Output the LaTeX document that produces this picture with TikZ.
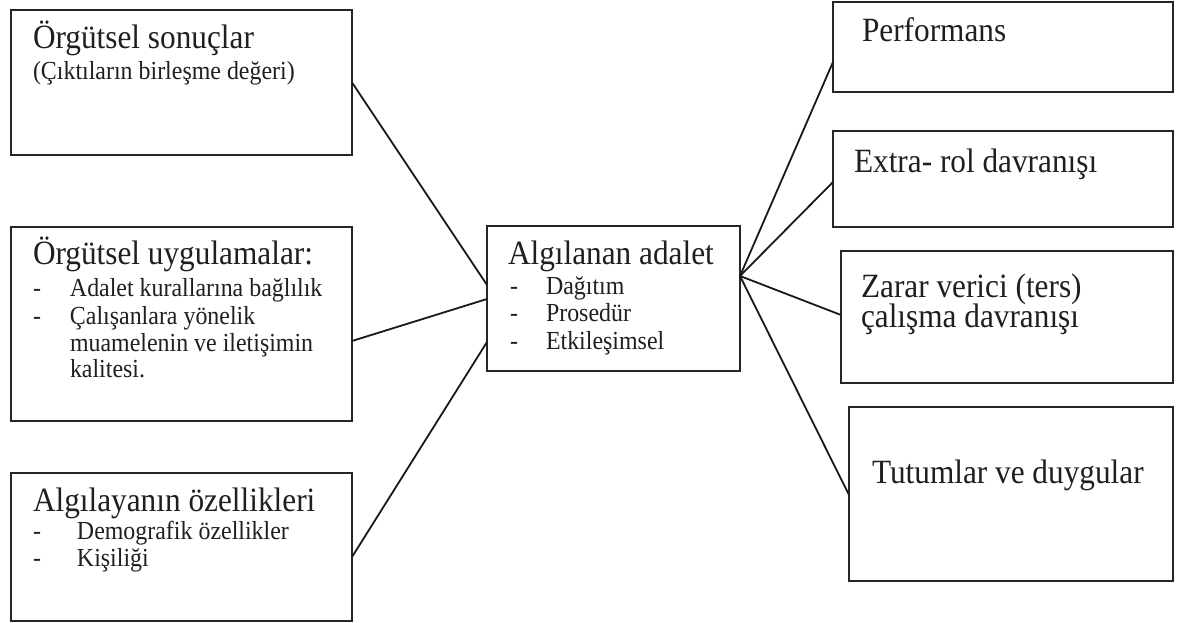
\documentclass[tikz,border=0pt]{standalone}
\usepackage{fontspec}
\setmainfont{Liberation Serif}[FakeStretch=0.92]
\tikzset{
  box/.style={draw=black!85, line width=2.2pt, inner sep=0pt, outer sep=0pt, anchor=south west, fill=none},
  link/.style={draw=black!90, line width=1.8pt},
  txt/.style={inner sep=0pt, outer sep=0pt, anchor=base west, text=black!88},
  big/.style={font=\fontsize{34}{40}\selectfont},
  small/.style={font=\fontsize{26}{31}\selectfont},
}
\newcommand{\dashitem}[2]{\makebox[#1][l]{-}#2}
% two lines set tightly, 30pt apart, baseline at the first line
\newcommand{\twolines}[2]{\vtop{\baselineskip=30pt\lineskiplimit=-100pt\hbox{#1}\hbox{#2}}}
\begin{document}
\begin{tikzpicture}[x=1pt,y=1pt]
\useasboundingbox (0,0) rectangle (1177,623);
\fill[white] (0,0) rectangle (1177,623);

% left column
\node[box, minimum width=341pt, minimum height=145pt] (b1) at (11,468) {};
\node[box, minimum width=341pt, minimum height=194pt] (b2) at (11,202) {};
\node[box, minimum width=341pt, minimum height=148pt] (b3) at (11,2) {};
% centre
\node[box, minimum width=253pt, minimum height=145pt] (c) at (487,252) {};
% right column
\node[box, minimum width=340pt, minimum height=90pt] (r1) at (833,531) {};
\node[box, minimum width=340pt, minimum height=96pt] (r2) at (833,396) {};
\node[box, minimum width=332pt, minimum height=132pt] (r3) at (841,240) {};
\node[box, minimum width=324pt, minimum height=174pt] (r4) at (849,42) {};

% texts of the left boxes
\node[txt, big] (t1a) at (33,574) {Örgütsel sonuçlar};
\node[txt, small] (t1b) at (33,543) {(Çıktıların birleşme değeri)};

\node[txt, big] (t2a) at (33,358) {Örgütsel uygulamalar:};
\node[txt, small] (t2b) at (33,326) {\dashitem{37pt}{Adalet kurallarına bağlılık}};
\node[txt, small] (t2c) at (33,298) {\dashitem{37pt}{Çalışanlara yönelik}};
\node[txt, small] (t2d) at (70,271) {muamelenin ve iletişimin};
\node[txt, small] (t2e) at (70,245) {kalitesi.};

\node[txt, big] (t3a) at (33,111) {Algılayanın özellikleri};
\node[txt, small] (t3b) at (33,83) {\dashitem{44pt}{Demografik özellikler}};
\node[txt, small] (t3c) at (33,56) {\dashitem{44pt}{Kişiliği}};

% texts of the centre box
\node[txt, big] (tca) at (508,358) {Algılanan adalet};
\node[txt, small] (tcb) at (510,328) {\dashitem{36pt}{Dağıtım}};
\node[txt, small] (tcc) at (510,301) {\dashitem{36pt}{Prosedür}};
\node[txt, small] (tcd) at (510,273) {\dashitem{36pt}{Etkileşimsel}};

% texts of the right boxes
\node[txt, big] (tr1) at (862,581) {Performans};
\node[txt, big] (tr2) at (854,450) {Extra- rol davranışı};
\node[txt, big] (tr3) at (861,325) {\twolines{Zarar verici (ters)}{çalışma davranışı}};
\node[txt, big] (tr4) at (872,139) {Tutumlar ve duygular};

% connectors into the centre box
\draw[link] (b1.east) -- ([yshift=86pt]c.south west);
\draw[link] ([yshift=80pt]b2.south east) -- ([yshift=72pt]c.south west);
\draw[link] ([yshift=64pt]b3.south east) -- ([yshift=29pt]c.south west);

% connectors out of the centre box
\draw[link] ([yshift=95pt]c.south east) -- ([yshift=30pt]r1.south west);
\draw[link] ([yshift=95pt]c.south east) -- ([yshift=45pt]r2.south west);
\draw[link] ([yshift=95pt]c.south east) -- ([yshift=68pt]r3.south west);
\draw[link] ([yshift=95pt]c.south east) -- ([yshift=86pt]r4.south west);
\end{tikzpicture}
\end{document}
